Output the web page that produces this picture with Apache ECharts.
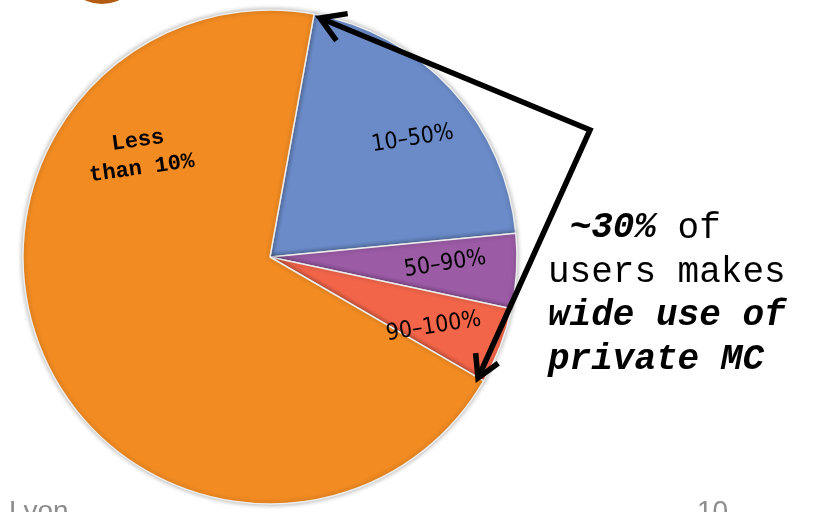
<!DOCTYPE html>
<html>
<head>
<meta charset="utf-8">
<script src="https://cdn.jsdelivr.net/npm/echarts@6/dist/echarts.min.js"></script>
<style>
  html, body { margin: 0; padding: 0; background: #ffffff; }
  #chart { width: 818px; height: 512px; }
</style>
</head>
<body>
<div id="chart"></div>
<script>
// Share of each user group (percent of users), in pie order, clockwise.
const categories = ['10–50%', '50–90%', '90–100%', 'Less\nthan 10%'];
const shares = [20.6, 4.9, 5.0, 69.5];
const sliceColors = ['#6A8BC8', '#9B5BA5', '#F26549', '#F28B22'];

// Callout text; each segment is [text, style] ('n' plain, 'b' bold italic).
const calloutLines = [
  [[' ', 'n'], ['~30%', 'b'], [' of', 'n']],
  [['users makes', 'n']],
  [['wide use of', 'b']],
  [['private MC', 'b']]
];

// Pie geometry and label placement.
const CX = 270, CY = 257, R = 247;
const FIRST_EDGE = 10.3;                  // degrees clockwise from 12 o'clock
const labelRadius = [0.75, 0.71, 0.72, 0.67];
const labelAngleShift = [3, -1, 2, 63];
const MONO = "'Courier New', 'Liberation Mono', monospace";

const total = shares.reduce((a, b) => a + b, 0);
const before = shares.map((_, i) => shares.slice(0, i).reduce((a, b) => a + b, 0));

function chevron(tip, from, len, half) {
  const ang = Math.atan2(from[1] - tip[1], from[0] - tip[0]);
  return [
    [tip[0] + len * Math.cos(ang + half), tip[1] + len * Math.sin(ang + half)],
    tip,
    [tip[0] + len * Math.cos(ang - half), tip[1] + len * Math.sin(ang - half)]
  ];
}

const corner = [590, 130];
const tipTop = [320, 18];
const tipBottom = [478, 378];
const arrowStyle = { stroke: '#000', lineWidth: 5.5, fill: null, lineJoin: 'miter', lineCap: 'butt' };

const callout = calloutLines
  .map(line => line.map(([t, s]) => '{' + s + '|' + t + '}').join(''))
  .join('\n');

const chart = echarts.init(document.getElementById('chart'), null, { renderer: 'canvas' });
chart.setOption({
  animation: false,
  backgroundColor: '#ffffff',
  series: [{
    type: 'pie',
    center: [CX, CY],
    radius: [0, R],
    startAngle: 90 - FIRST_EDGE,
    clockwise: true,
    silent: true,
    z: 1,
    itemStyle: {
      borderColor: '#eeeeee',
      borderWidth: 1.5,
      shadowBlur: 5,
      shadowColor: 'rgba(0,0,0,0.32)'
    },
    label: {
      show: true,
      position: 'inside',
      rotate: 9,
      color: '#000',
      fontFamily: "'DejaVu Sans Condensed', 'DejaVu Sans', sans-serif",
      fontSize: 23,
      align: 'center',
      verticalAlign: 'middle',
      formatter: p => p.name
    },
    labelLine: { show: false },
    labelLayout: function (p) {
      const i = p.dataIndex;
      const mid = FIRST_EDGE + (before[i] + shares[i] / 2) / total * 360 + labelAngleShift[i];
      const rad = mid * Math.PI / 180;
      return {
        x: CX + labelRadius[i] * R * Math.sin(rad),
        y: CY - labelRadius[i] * R * Math.cos(rad),
        align: 'center',
        verticalAlign: 'middle'
      };
    },
    data: categories.map((name, i) => {
      const item = { name: name, value: shares[i], itemStyle: { color: sliceColors[i] } };
      if (i === 3) {
        item.label = {
          fontFamily: MONO, fontWeight: 'bold', fontSize: 22, lineHeight: 28, rotate: 8
        };
      }
      return item;
    })
  }],
  graphic: [
    { type: 'circle', z: 100, shape: { cx: 102, cy: -36, r: 40 }, style: { fill: '#B25B12' }, silent: true },
    { type: 'polyline', z: 100, shape: { points: [tipTop, corner, tipBottom] }, style: arrowStyle, silent: true },
    { type: 'polyline', z: 100, shape: { points: chevron(tipTop, corner, 28, 0.55) }, style: arrowStyle, silent: true },
    { type: 'polyline', z: 100, shape: { points: chevron(tipBottom, corner, 25, 0.52) }, style: arrowStyle, silent: true },
    {
      type: 'text', z: 100, left: 548, top: 210, silent: true,
      style: {
        text: callout,
        rich: {
          n: { fontFamily: MONO, fontSize: 36, lineHeight: 44, color: '#2a2a2a' },
          b: { fontFamily: MONO, fontSize: 36, lineHeight: 44, color: '#000', fontWeight: 'bold', fontStyle: 'italic' }
        }
      }
    },
    { type: 'text', z: 100, x: 9, y: 498, silent: true,
      style: { text: 'Lyon', fontFamily: "'Liberation Sans', Arial, sans-serif", fontSize: 28, fill: '#8c8c8c', verticalAlign: 'top' } },
    { type: 'text', z: 100, x: 697, y: 498, silent: true,
      style: { text: '10', fontFamily: "'Liberation Sans', Arial, sans-serif", fontSize: 28, fill: '#8c8c8c', verticalAlign: 'top' } }
  ]
});
</script>
</body>
</html>
